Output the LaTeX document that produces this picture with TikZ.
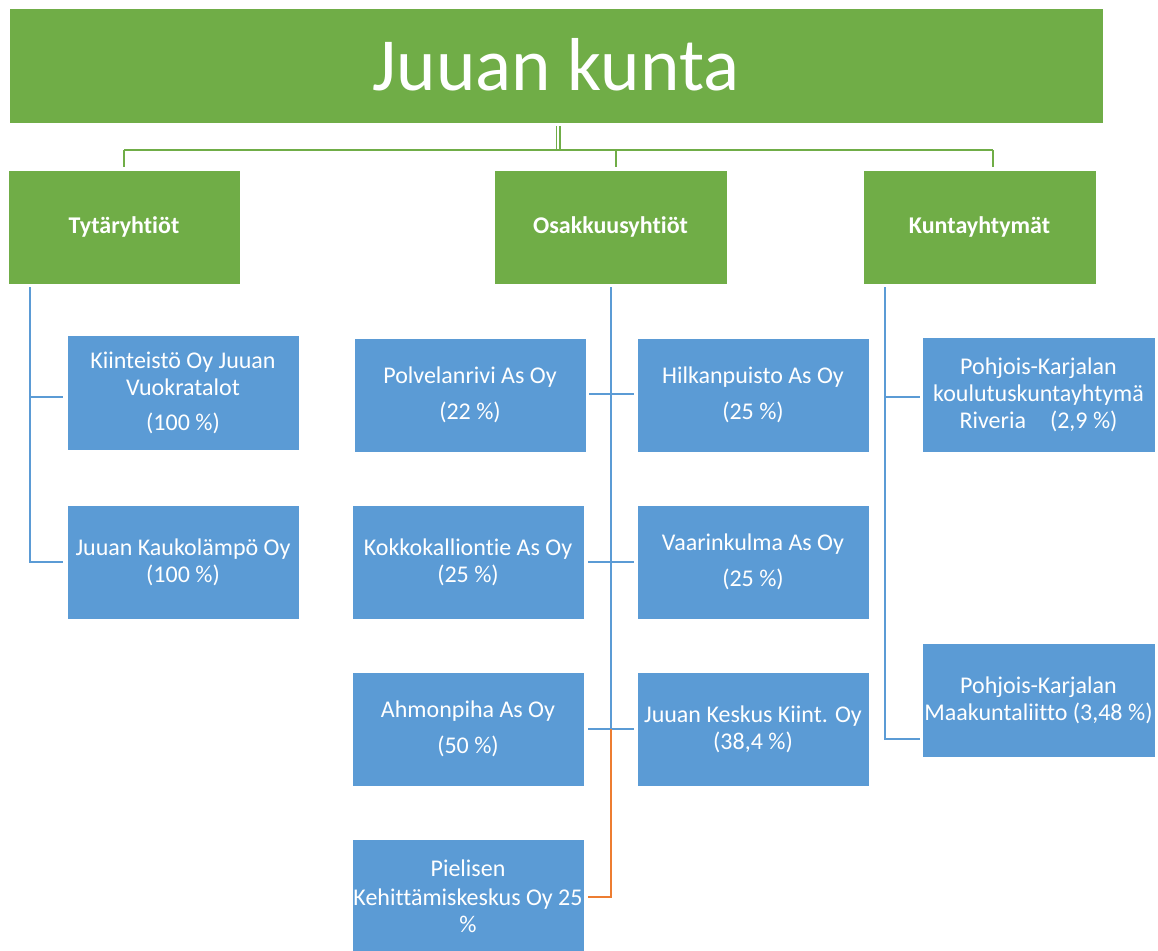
\documentclass[tikz,border=0pt]{standalone}
\usepackage{fontspec}
\setmainfont{Carlito}[Ligatures=NoCommon]
\definecolor{grn}{HTML}{70AD47}
\definecolor{blu}{HTML}{5B9BD5}
\definecolor{org}{HTML}{ED7D31}
\begin{document}
\begin{tikzpicture}[x=1pt,y=-1pt,
  box/.style={rectangle, draw=white, line width=0.4pt, inner sep=0pt, text=white, align=center,
    minimum width=232pt, minimum height=114pt, font=\fontsize{24}{27}\selectfont},
  gbox/.style={box, fill=grn},
  hbox/.style={gbox, font=\bfseries\fontsize{24}{27}\selectfont},
  bbox/.style={box, fill=blu},
  gline/.style={draw=grn, line width=2.8pt},
  bline/.style={draw=blu, line width=2.8pt},
  oline/.style={draw=org, line width=2.8pt}]
\useasboundingbox (0,0) rectangle (1158,950);
\clip (0,0) rectangle (1158,950);
% title
\node[gbox, minimum width=1094pt, minimum height=115pt, font=\fontsize{75}{82}\selectfont] (title) at (556,65.5) {\raisebox{3pt}{Juuan kunta}};
% headers
\node[hbox] (h1) at (124,227) {Tytäryhtiöt};
\node[hbox, minimum width=233pt] (h2) at (610.5,227) {Osakkuusyhtiöt};
\node[hbox, minimum width=233pt] (h3) at (979.5,227) {Kuntayhtymät};
% left group
\node[bbox, minimum height=115pt] (k1) at (183,392.5) {Kiinteistö Oy Juuan\\Vuokratalot\\[8pt](100~\%)};
\node[bbox] (k2) at (183,562) {Juuan Kaukolämpö Oy\\(100~\%)};
% middle group
\node[bbox] (p1) at (470,395) {Polvelanrivi As Oy\\[9pt](22~\%)};
\node[bbox] (p2) at (753,395) {Hilkanpuisto As Oy\\[9pt](25~\%)};
\node[bbox] (p3) at (468,562) {Kokkokalliontie As Oy\\(25~\%)};
\node[bbox] (p4) at (753,562) {Vaarinkulma As Oy\\[9pt](25~\%)};
\node[bbox] (p5) at (468,729) {Ahmonpiha As Oy\\[9pt](50~\%)};
\node[bbox] (p6) at (753,729) {Juuan Keskus Kiint. Oy\\(38,4~\%)};
\node[bbox] (p7) at (468,896) {Pielisen\\[2pt]Kehittämiskeskus Oy 25\\\%};
% right group
\node[bbox, minimum width=233pt, minimum height=115pt] (r1) at (1038.5,394.5) {Pohjois-Karjalan\\koulutuskuntayhtymä\\Riveria\hspace{24pt}(2,9~\%)};
\node[bbox, minimum width=233pt] (r2) at (1038.5,700) {Pohjois-Karjalan\\Maakuntaliitto (3,48~\%)};
% green connectors
\coordinate (busL) at (124,150);
\coordinate (busR) at (993,150);
\draw[gline, line width=1.8pt] ([xshift=0.5pt,yshift=-3pt]title.south) -- ([xshift=0.5pt]title.south |- busL);
\draw[gline, line width=1.8pt] ([xshift=4pt,yshift=-3pt]title.south) -- ([xshift=4pt]title.south |- busL);
\draw[gline] (busL) -- (busR);
\draw[gline] (busL) -- ([yshift=3pt]h1.north);
\draw[gline] ([xshift=5.5pt]h2.north |- busL) -- ([xshift=5.5pt,yshift=3pt]h2.north);
\draw[gline] (busR) -- ([xshift=13.5pt,yshift=3pt]h3.north);
% left blue connectors
\coordinate (lt) at (30,287);
\draw[bline] (lt) |- ([xshift=-4pt]k2.west);
\draw[bline] ([yshift=-4.5pt]lt |- k1.west) -- ([xshift=-4pt,yshift=-4.5pt]k1.west);
% middle blue connectors
\coordinate (mt) at (611,287);
\coordinate (mb) at (611,729);
\draw[bline] (mt) -- (mb);
\draw[bline] ([xshift=3pt,yshift=1pt]p1.east) -- ([xshift=-3pt,yshift=1pt]p2.west);
\draw[bline] ([xshift=4pt]p3.east) -- ([xshift=-3pt]p4.west);
\draw[bline] ([xshift=4pt]p5.east) -- ([xshift=-3pt]p6.west);
% orange connector
\draw[oline] (mb) |- ([xshift=4pt,yshift=-1pt]p7.east);
% right blue connectors
\coordinate (rt) at (885,287);
\draw[bline] (rt) |- ([xshift=-2pt,yshift=-39pt]r2.west);
\draw[bline] ([yshift=-2.5pt]rt |- r1.west) -- ([xshift=-2pt,yshift=-2.5pt]r1.west);
\end{tikzpicture}
\end{document}
